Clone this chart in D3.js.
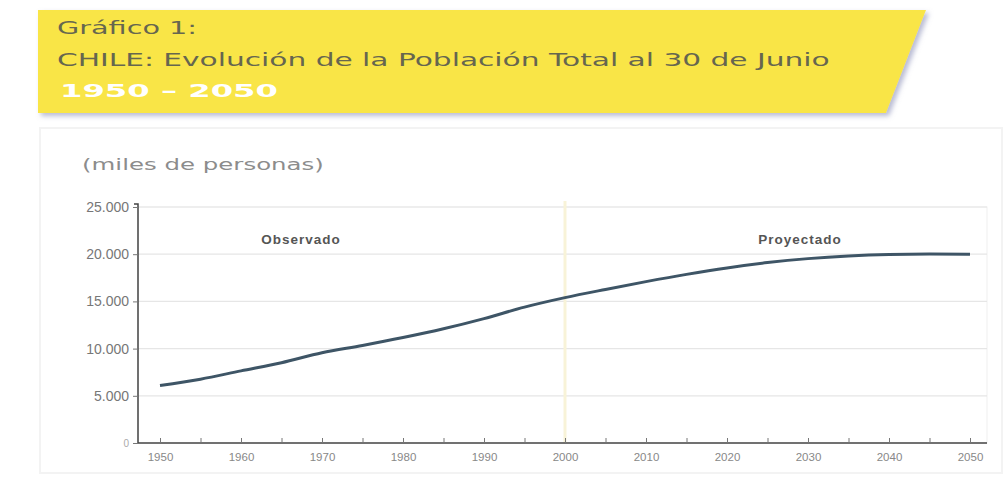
<!DOCTYPE html>
<html>
<head>
<meta charset="utf-8">
<script src="https://cdn.jsdelivr.net/npm/d3@7"></script>
<style>
body { margin: 0; background: #fff; }
</style>
</head>
<body>
<div id="chart"></div>
<script>
var years = [1950, 1955, 1960, 1965, 1970, 1975, 1980, 1985, 1990, 1995, 2000,
             2005, 2010, 2015, 2020, 2025, 2030, 2035, 2040, 2045, 2050];
var poblacion = [6082, 6761, 7643, 8510, 9570, 10337, 11174, 12102, 13179, 14395, 15398,
                 16267, 17094, 17865, 18549, 19110, 19531, 19815, 19966, 20008, 20005];
var yTicks = [0, 5000, 10000, 15000, 20000, 25000];
var xTicks = [1950, 1960, 1970, 1980, 1990, 2000, 2010, 2020, 2030, 2040, 2050];
var periodos = ["Observado", "Proyectado"];

var svg = d3.select("#chart").append("svg")
    .attr("width", 1006).attr("height", 493);

var defs = svg.append("defs");
var f = defs.append("filter").attr("id", "sh").attr("x", "-5%").attr("y", "-10%")
    .attr("width", "115%").attr("height", "130%");
f.append("feDropShadow").attr("dx", 3).attr("dy", 3).attr("stdDeviation", 2.5)
    .attr("flood-color", "#8a8fb8").attr("flood-opacity", 0.6);

// panel frame
svg.append("rect").attr("x", 40).attr("y", 128).attr("width", 962).attr("height", 345)
    .attr("fill", "none").attr("stroke", "#f3f3f3").attr("stroke-width", 2);

// yellow title band
svg.append("path")
    .attr("d", "M38,10 L926,10 L886,113 L38,113 Z")
    .attr("fill", "#f9e547").attr("filter", "url(#sh)");

// wide text: stretch glyphs horizontally to the reference width
var titleFont = "DejaVu Sans, Verdana, sans-serif";
function wideText(txt, x0, y0, width, size, color, weight) {
    var t = svg.append("text").attr("x", 0).attr("y", 0)
        .attr("font-family", titleFont).attr("font-size", size)
        .attr("font-weight", weight || 400).attr("fill", color)
        .text(txt);
    var w = t.node().getComputedTextLength();
    t.attr("transform", "translate(" + x0 + "," + y0 + ") scale(" + (width / w) + ",1)");
    return t;
}
wideText("Gráfico 1:", 57, 34, 140, 18, "#66664f");
wideText("CHILE: Evolución de la Población Total al 30 de Junio", 57, 66, 773, 18, "#66664f");
wideText("1950 – 2050", 60, 97, 218, 18, "#ffffff", 700);
wideText("(miles de personas)", 82, 170, 242, 16, "#8c8c8c");

var pLeft = 138, pRight = 987, pTop = 207, pBottom = 443;
var x = d3.scaleLinear().domain([1950, 2050]).range([160, 970]);
var y = d3.scaleLinear().domain([0, 25000]).range([pBottom, pTop]);

// plot frame
svg.append("rect").attr("x", pLeft).attr("y", pTop).attr("width", pRight - pLeft)
    .attr("height", pBottom - pTop).attr("fill", "none").attr("stroke", "#efefef");

// grid
svg.append("g").selectAll("line").data(yTicks.slice(1)).enter().append("line")
    .attr("x1", pLeft).attr("x2", pRight)
    .attr("y1", function(d) { return y(d); }).attr("y2", function(d) { return y(d); })
    .attr("stroke", "#e6e6e6").attr("stroke-width", 1.2);

// divider observed / projected
svg.append("line").attr("x1", x(2000)).attr("x2", x(2000))
    .attr("y1", pTop - 6).attr("y2", pBottom)
    .attr("stroke", "#f8f3d8").attr("stroke-width", 3);

// y axis
var yAxis = d3.axisLeft(y).tickValues(yTicks).tickSize(5)
    .tickFormat(function(d) { return d === 0 ? "0" : d3.format(",")(d).replace(",", "."); });
var gy = svg.append("g").attr("transform", "translate(" + pLeft + ",0)").call(yAxis);
gy.select(".domain").attr("stroke", "#444").attr("stroke-width", 1.5)
    .attr("d", "M-4," + (pTop - 3) + "H0V" + pBottom);
gy.selectAll(".tick line").attr("stroke", "#777");
gy.selectAll("text").attr("font-family", "Liberation Sans, Arial, sans-serif")
    .attr("font-size", 14).attr("fill", "#777").attr("x", -9);
gy.selectAll("text").filter(function(d) { return d === 0; })
    .attr("font-size", 10).attr("fill", "#aaa");

// x axis
var xAxis = d3.axisBottom(x).tickValues(d3.range(1950, 2051, 5)).tickSize(-5)
    .tickFormat(function(d) { return xTicks.indexOf(d) >= 0 ? d : ""; });
var gx = svg.append("g").attr("transform", "translate(0," + pBottom + ")").call(xAxis);
gx.select(".domain").attr("stroke", "#444").attr("stroke-width", 1.5)
    .attr("d", "M" + pLeft + ",0H" + pRight);
gx.selectAll(".tick line").attr("stroke", "#777");
gx.selectAll("text").attr("font-family", "Liberation Sans, Arial, sans-serif")
    .attr("font-size", 11.5).attr("fill", "#888").attr("y", 10);

// line
var line = d3.line()
    .x(function(d, i) { return x(years[i]); })
    .y(function(d) { return y(d); })
    .curve(d3.curveMonotoneX);
svg.append("path").datum(poblacion).attr("d", line)
    .attr("fill", "none").attr("stroke", "#3e5566").attr("stroke-width", 3);

// period labels
var labelX = [301, 800];
svg.append("g").selectAll("text").data(periodos).enter().append("text")
    .attr("x", function(d, i) { return labelX[i]; }).attr("y", 244)
    .attr("text-anchor", "middle")
    .attr("font-family", "Liberation Sans, Arial, sans-serif").attr("font-size", 13.5)
    .attr("font-weight", 700).attr("fill", "#555").attr("letter-spacing", 1)
    .text(function(d) { return d; });
</script>
</body>
</html>
